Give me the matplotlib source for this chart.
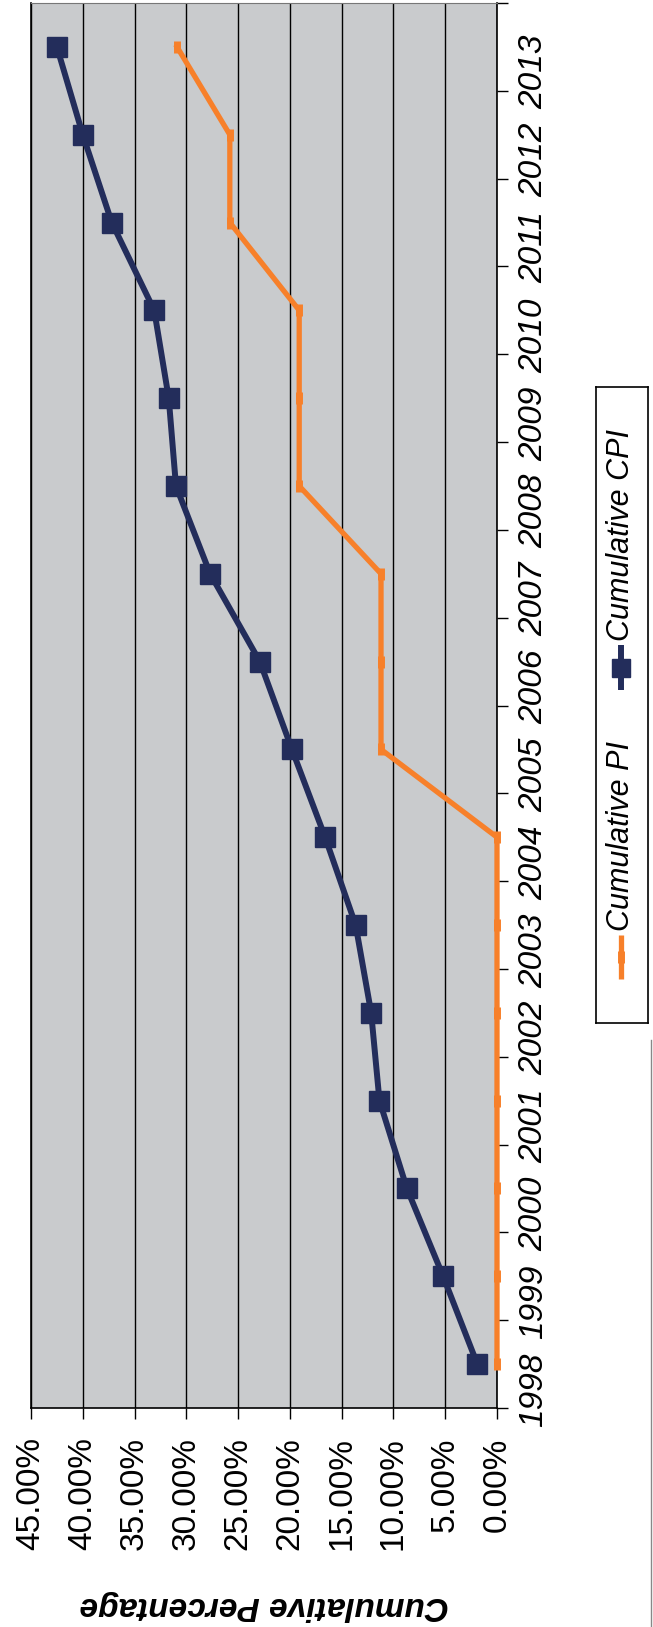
import numpy as np
import matplotlib
matplotlib.use('Agg')
import matplotlib.pyplot as plt
from matplotlib.lines import Line2D
from matplotlib.ticker import NullFormatter

plt.rcParams['font.family'] = ['Liberation Sans', 'DejaVu Sans']

years = ['1998', '1999', '2000', '2001', '2002', '2003', '2004', '2005',
         '2006', '2007', '2008', '2009', '2010', '2011', '2012', '2013']
cum_pi = [0.0, 0.0, 0.0, 0.0, 0.0, 0.0, 0.0, 11.2,
          11.2, 11.2, 19.1, 19.1, 19.1, 25.8, 25.8, 30.9]
cum_cpi = [1.9, 5.2, 8.7, 11.35, 12.15, 13.65, 16.6, 19.8,
           22.9, 27.7, 31.0, 31.7, 33.1, 37.2, 40.0, 42.5]
pct_ticks = [0, 5, 10, 15, 20, 25, 30, 35, 40, 45]

NAVY = '#232d5b'
ORANGE = '#f7802a'
W, H = 653, 1627

fig = plt.figure(figsize=(W / 100, H / 100), dpi=100)

# the chart is printed turned on its side: values run right-to-left, years bottom-to-top
ax = fig.add_axes([31 / W, (H - 1408) / H, (497 - 31) / W, (1408 - 3) / H])
ax.set_facecolor('#c9cbcd')
ax.set_xlim(45, 0)
ax.set_ylim(-0.5, len(years) - 0.5)

pos = np.arange(len(years))
ax.plot(cum_pi, pos, color=ORANGE, lw=3.8, marker='|', ms=9, mew=5,
        clip_on=False, zorder=4)
ax.plot(cum_cpi, pos, color=NAVY, lw=4.3, marker='s', ms=14.5,
        clip_on=False, zorder=5)

ax.set_xticks(pct_ticks)
ax.set_xticklabels([f'{v:.2f}%' for v in pct_ticks], rotation=90)
ax.tick_params(axis='x', direction='out', length=8, width=1, labelsize=24, pad=13)

# year labels sit between boundary ticks
ax.yaxis.tick_right()
ax.set_yticks(np.arange(-0.5, len(years), 1))
ax.yaxis.set_major_formatter(NullFormatter())
ax.set_yticks(pos, minor=True)
ax.set_yticklabels(years, minor=True, rotation=90, fontstyle='italic')
ax.tick_params(axis='y', which='major', direction='out', length=8, width=1)
ax.tick_params(axis='y', which='minor', length=0, pad=15, labelsize=24)
ax.tick_params(axis='y', which='both', left=False, labelleft=False,
               right=True, labelright=True)

# vertical grid lines at every 5 %
ax.yaxis.grid(False, which='both')
ax.xaxis.grid(False, which='both')
for v in pct_ticks:
    ax.axvline(v, color='black', lw=1, zorder=1)

for side in ['left', 'right', 'bottom']:
    ax.spines[side].set_color('black')
    ax.spines[side].set_linewidth(1.2)
ax.spines['top'].set_color('#777777')

fig.text(264 / W, 1 - 1606 / H, 'Cumulative Percentage', rotation=180,
         fontsize=24, fontweight='bold', fontstyle='italic',
         ha='center', va='center')

# legend, drawn by hand because it is turned as well
lax = fig.add_axes([596 / W, (H - 1023) / H, 52 / W, 636 / H])
lax.set_xlim(0, 52)
lax.set_ylim(0, 636)
lax.set_xticks([])
lax.set_yticks([])
for s in lax.spines.values():
    s.set_linewidth(1.2)
lax.plot([25, 25], [44, 88], color=ORANGE, lw=3.8, solid_capstyle='butt')
lax.plot([25], [66], color=ORANGE, marker='|', ms=9, mew=5)
lax.text(25, 92, 'Cumulative PI', rotation=90, ha='center', va='bottom',
         fontsize=22, fontstyle='italic')
lax.plot([25, 25], [333, 378], color=NAVY, lw=4.3, solid_capstyle='butt')
lax.plot([25], [355], color=NAVY, marker='s', ms=13)
lax.text(25, 382, 'Cumulative CPI', rotation=90, ha='center', va='bottom',
         fontsize=22, fontstyle='italic')

# faint page edge from the scan
fig.add_artist(Line2D([651 / W, 651 / W], [0, 1 - 1040 / H],
                      transform=fig.transFigure, color='#888888', lw=1))

fig.savefig('out.png', dpi=100)
